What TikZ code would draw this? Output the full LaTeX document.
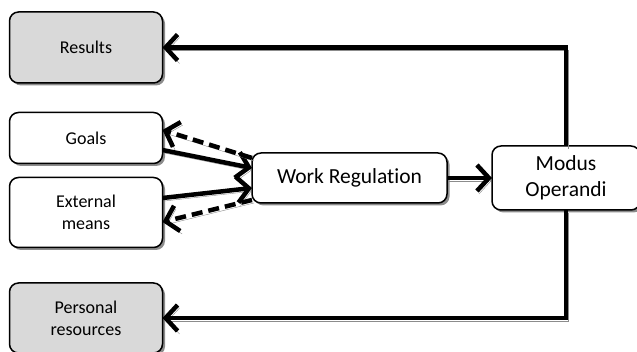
\documentclass[tikz,border=0pt]{standalone}
\usepackage{fontspec}
\setmainfont{Carlito}[Ligatures=NoCommon]
\usetikzlibrary{arrows.meta,shadows}
\definecolor{ink}{RGB}{0,0,0}
\definecolor{pale}{RGB}{217,217,217}
\definecolor{smoke}{RGB}{140,140,140}
\tikzset{
  >={Straight Barb[length=12pt,width=26pt]},
  box/.style={draw=ink,fill=#1,line width=1.5pt,rounded corners=9pt,
    inner sep=0pt,outer sep=0pt,align=center,font=\fontsize{18}{22}\selectfont,
    general shadow={shadow xshift=2.5pt,shadow yshift=-2.5pt,fill=smoke}},
  box/.default=white,
  big/.style={font=\fontsize{21.5}{26}\selectfont},
  flow/.style={->,line width=4.5pt,draw=ink,
    preaction={draw=smoke,transform canvas={shift={(2pt,-3pt)}}}},
  back flow/.style={flow,dash pattern=on 11pt off 6pt},
}
\begin{document}
\begin{tikzpicture}[x=1pt,y=-1pt]
  \useasboundingbox (0,0) rectangle (637,352);
  % left column
  \node[box=pale,minimum width=153pt,minimum height=71pt] (res) at (86,47.5) {Results};
  \node[box,minimum width=153pt,minimum height=51pt] (goals) at (86,138) {Goals};
  \node[box,minimum width=153pt,minimum height=70pt] (ext) at (86,212.5) {External\\means};
  \node[box=pale,minimum width=153pt,minimum height=70pt] (pers) at (86,318) {Personal\\resources};
  % middle and right
  \node[box,big,minimum width=195pt,minimum height=50pt] (wr) at (349.5,178) {Work Regulation};
  \node[box,big,minimum width=148pt,minimum height=64pt] (mo) at (566,178) {Modus\\Operandi};
  % connectors
  \draw[flow] ([yshift=-12pt]goals.east) -- ([yshift=10pt]wr.west);
  \draw[flow] ([yshift=14.5pt]ext.east) -- ([yshift=-10pt]wr.west);
  \draw[back flow] ([yshift=20pt]wr.west) -- ([yshift=8pt]goals.east);
  \draw[back flow] ([yshift=-22pt]wr.west) -- ([yshift=-9.5pt]ext.east);
  \draw[flow] (wr.east) -- (mo.west);
  \draw[flow] (mo.north) |- (res.east);
  \draw[flow] (mo.south) |- (pers.east);
\end{tikzpicture}
\end{document}
